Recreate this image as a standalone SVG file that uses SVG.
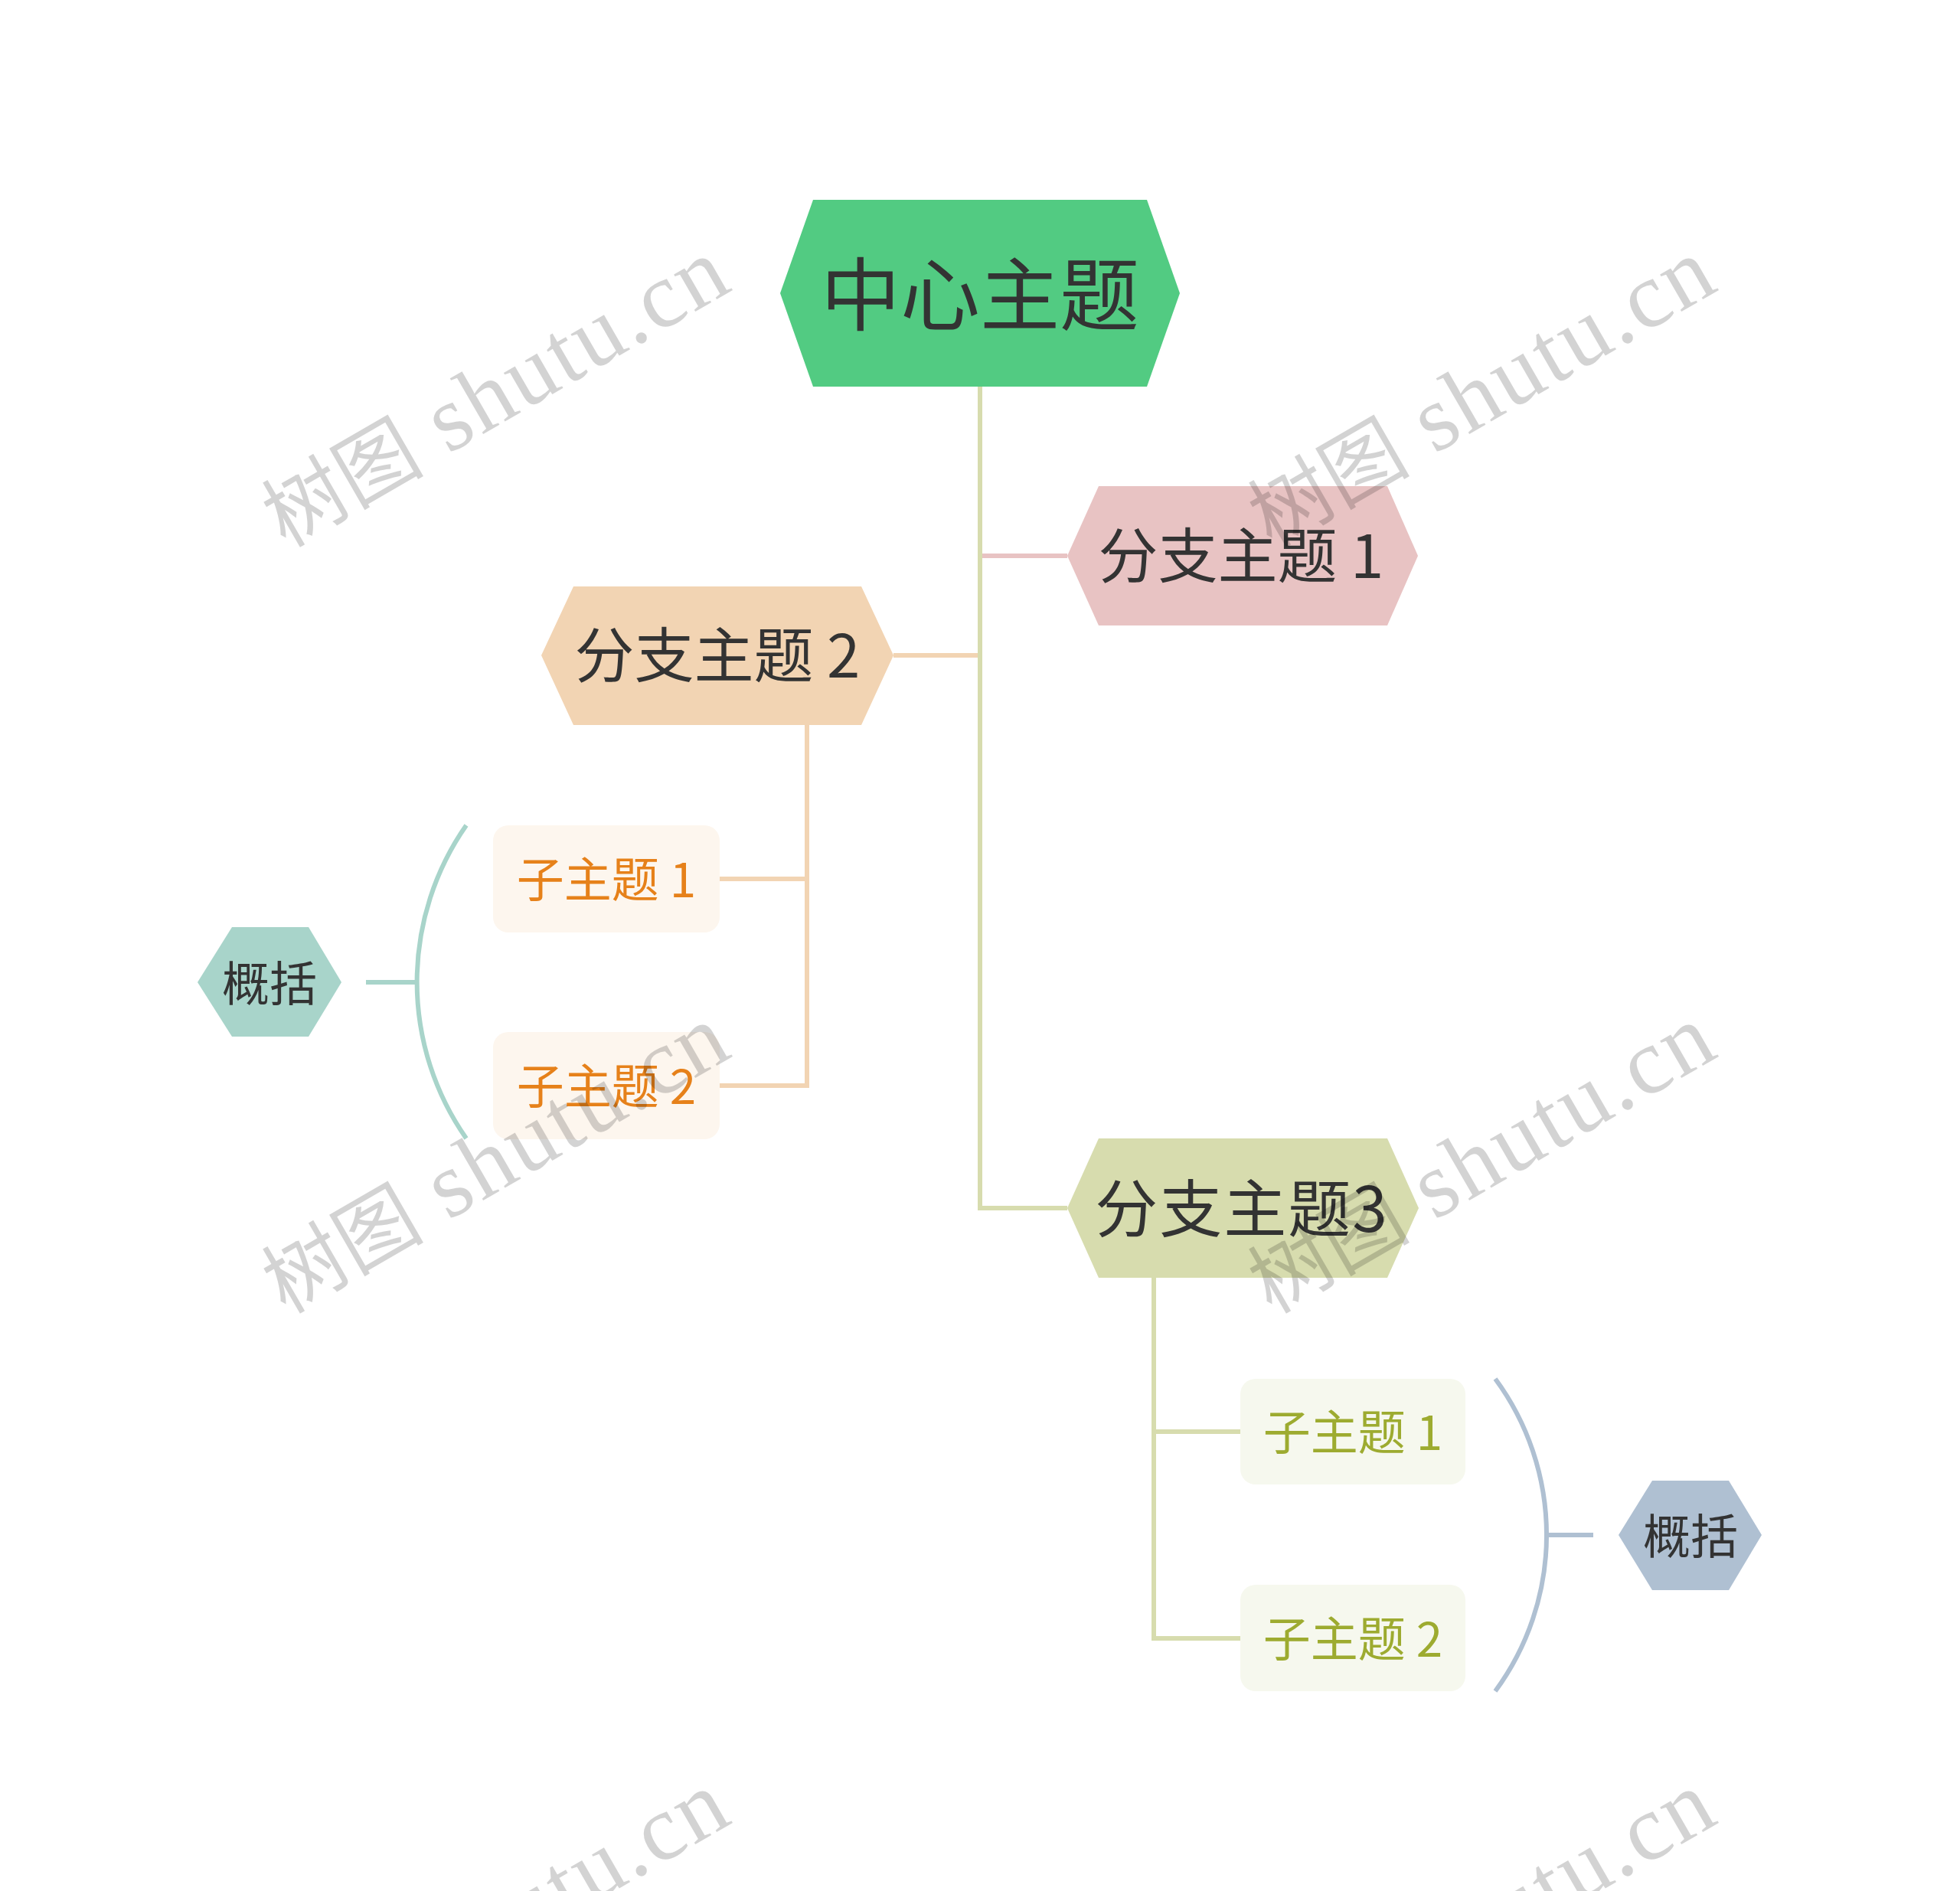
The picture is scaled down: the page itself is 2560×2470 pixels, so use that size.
<svg xmlns="http://www.w3.org/2000/svg" width="2560" height="2470" viewBox="0 0 2560 2470">
<style>
.t{font-family:"Noto Sans CJK SC","Noto Sans",sans-serif;text-anchor:middle;dominant-baseline:central;fill:#333333}
.br{font-size:78px}
.sub{font-size:62px}
.subL{fill:#E6811A}
.subR{fill:#9DAB30}
.c{fill:none;stroke-width:6;stroke-linejoin:miter}
.s{fill:none;stroke-width:6}
.wm{font-family:"Liberation Serif","Noto Sans CJK SC",serif;font-size:122px;letter-spacing:3px;fill:#000000;opacity:0.17;text-anchor:middle}
.wz{font-size:106px;letter-spacing:0px}
</style>
<rect width="2560" height="2470" fill="#ffffff"/>
<g id="connectors">
<path class="c" stroke="#E8C3C3" d="M1280,505V726H1394"/>
<path class="c" stroke="#F2D4B3" d="M1280,505V856H1167"/>
<path class="c" stroke="#D7DCAE" d="M1280,505V1578H1394"/>
<path class="c" stroke="#F2D4B3" d="M1054,947V1148H940M1054,947V1418H940"/>
<path class="c" stroke="#D7DCAE" d="M1507,1669V1870H1620M1507,1669V2140H1620"/>
<path class="s" stroke="#A8D4CA" d="M609,1078A357,357 0 0,0 609,1487M544,1283H478"/>
<path class="s" stroke="#AFC0D2" d="M1953,1801A344,344 0 0,1 1953,2209M2017,2005H2081"/>
</g>
<g id="root">
<polygon fill="#52CB82" points="1062,261 1498,261 1541,383 1498,505 1062,505 1019,383"/>
<text class="t" x="1280" y="378" font-size="104">中心主题</text>
</g>
<g id="branch1">
<polygon fill="#E8C3C3" points="1435,635 1812,635 1852,726 1812,817 1435,817 1394,726"/>
<text class="t br" x="1621" y="721">分支主题 1</text>
</g>
<g id="branch2">
<polygon fill="#F2D4B3" points="749,766 1125,766 1167,856 1125,947 749,947 707,856"/>
<text class="t br" x="937" y="851">分支主题 2</text>
</g>
<g id="branch3">
<polygon fill="#D7DCAE" points="1435,1487 1812,1487 1853,1578 1812,1669 1435,1669 1394,1578"/>
<text class="t" x="1622" y="1573" font-size="82" letter-spacing="2">分支主题3</text>
</g>
<g id="sub2-1">
<rect x="644" y="1078" width="296" height="140" rx="20" fill="#FDF6EE"/>
<text class="t sub subL" x="792" y="1145">子主题 1</text>
</g>
<g id="sub2-2">
<rect x="644" y="1348" width="296" height="140" rx="20" fill="#FDF6EE"/>
<text class="t sub subL" x="792" y="1415">子主题 2</text>
</g>
<g id="sub3-1">
<rect x="1620" y="1801" width="294" height="138" rx="20" fill="#F6F8EE"/>
<text class="t sub subR" x="1767" y="1867">子主题 1</text>
</g>
<g id="sub3-2">
<rect x="1620" y="2070" width="294" height="139" rx="20" fill="#F6F8EE"/>
<text class="t sub subR" x="1767" y="2137">子主题 2</text>
</g>
<g id="summary1">
<polygon fill="#A8D4CA" points="303,1211 403,1211 446,1283 403,1354 303,1354 258,1283"/>
<text class="t" x="352" y="1281" font-size="62">概括</text>
</g>
<g id="summary2">
<polygon fill="#AFC0D2" points="2158,1934 2258,1934 2301,2005 2258,2077 2158,2077 2114,2005"/>
<text class="t" x="2208" y="2003" font-size="62">概括</text>
</g>
<g id="watermarks">
<text class="wm" transform="translate(646,510) rotate(-30)" x="0" y="42"><tspan class="wz">树图</tspan> shutu.cn</text>
<text class="wm" transform="translate(1934,510) rotate(-30)" x="0" y="42"><tspan class="wz">树图</tspan> shutu.cn</text>
<text class="wm" transform="translate(646,1511) rotate(-30)" x="0" y="42"><tspan class="wz">树图</tspan> shutu.cn</text>
<text class="wm" transform="translate(1934,1511) rotate(-30)" x="0" y="42"><tspan class="wz">树图</tspan> shutu.cn</text>
<text class="wm" transform="translate(646,2512) rotate(-30)" x="0" y="42"><tspan class="wz">树图</tspan> shutu.cn</text>
<text class="wm" transform="translate(1934,2512) rotate(-30)" x="0" y="42"><tspan class="wz">树图</tspan> shutu.cn</text>
</g>
</svg>
